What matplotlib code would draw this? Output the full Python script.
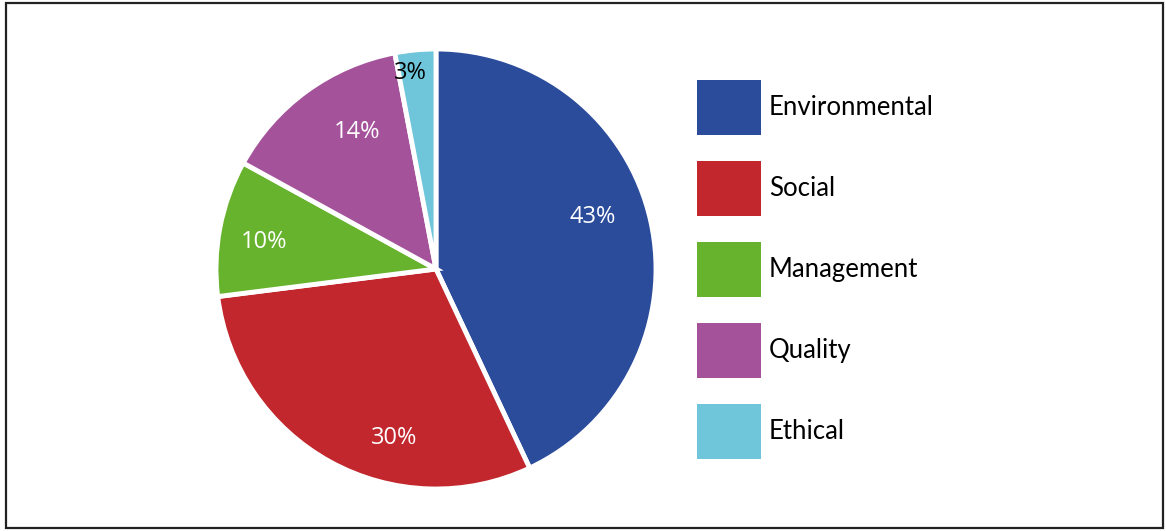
import numpy as np
import matplotlib.pyplot as plt
from matplotlib.patches import Patch, Rectangle

# share of issues by category
categories = ['Environmental', 'Social', 'Management', 'Quality', 'Ethical']
shares = [43, 30, 10, 14, 3]
colors = ['#2B4B9B', '#C1272D', '#67B32E', '#A4539B', '#6FC6DA']
label_colors = ['white', 'white', 'white', 'white', 'black']
label_radius = [0.75, 0.79, 0.79, 0.72, 0.9]
label_shift = [5.7, 15, 2, -6, 2]  # degrees, nudges labels off the mid angle

fig = plt.figure(figsize=(11.66, 5.31), dpi=100)

# thin frame around the whole figure
fig.patches.append(Rectangle((6 / 1166, 3 / 531), 1157 / 1166, 525 / 531,
                             transform=fig.transFigure, fill=False,
                             edgecolor='#222222', linewidth=1.6))

lim = 1.1
R = 220
size = 2 * lim * R
ax = fig.add_axes([(436 - size / 2) / 1166, (531 - 269 - size / 2) / 531,
                   size / 1166, size / 531])

wedges, _ = ax.pie(shares, colors=colors, startangle=90, counterclock=False,
                   wedgeprops=dict(edgecolor='white', linewidth=3.5))
ax.set_xlim(-lim, lim)
ax.set_ylim(-lim, lim)
ax.set_aspect('equal')

for w, v, c, r, s in zip(wedges, shares, label_colors, label_radius, label_shift):
    mid = np.deg2rad((w.theta1 + w.theta2) / 2 + s)
    ax.text(r * np.cos(mid), r * np.sin(mid), f'{v}%', color=c,
            ha='center', va='center', fontsize=17, family='Open Sans')

handles = [Patch(facecolor=c, edgecolor='none') for c in colors]
fig.legend(handles, categories, loc='upper left',
           bbox_to_anchor=(697 / 1166, 1 - 80 / 531), frameon=False,
           borderpad=0, borderaxespad=0, handlelength=2.49, handleheight=2.915,
           labelspacing=1.01, handletextpad=0.3,
           prop=dict(family='Lato', size=18.5))

fig.savefig('out.png', dpi=100)
